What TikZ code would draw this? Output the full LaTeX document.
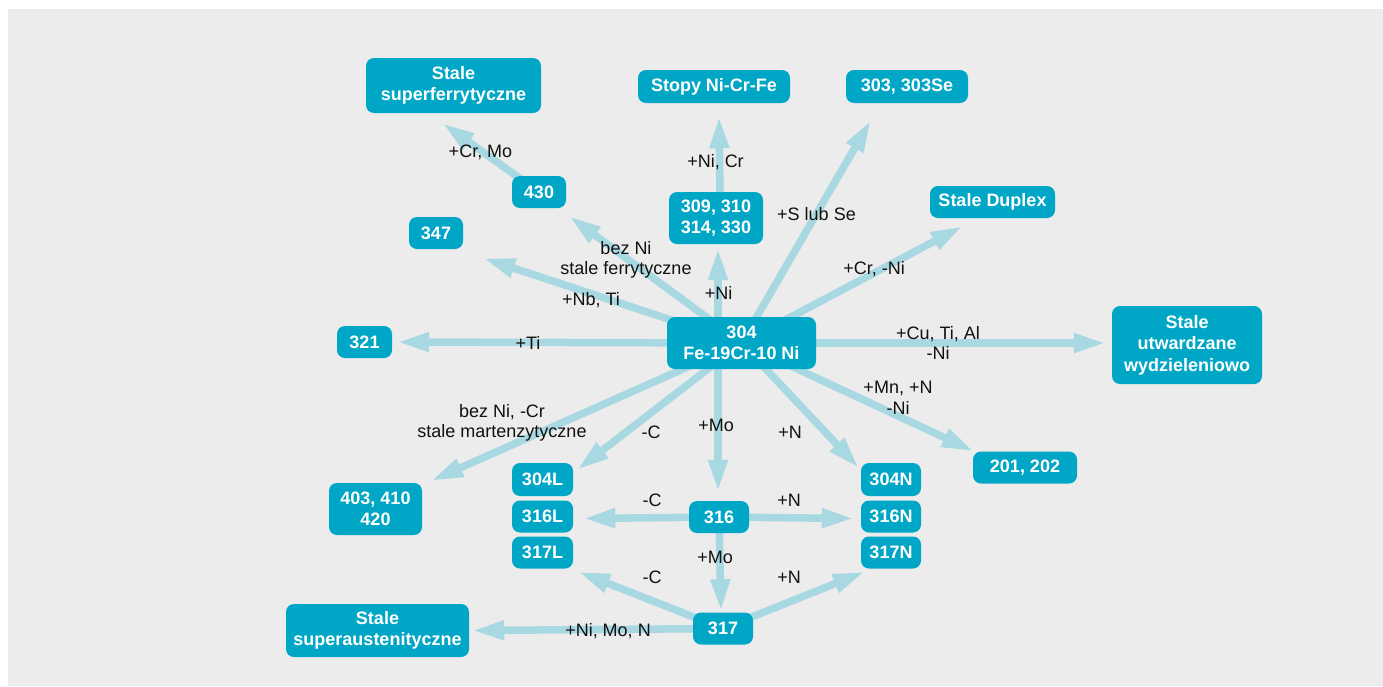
\documentclass[tikz,border=0pt]{standalone}
\usepackage{fontspec}
\setmainfont{Liberation Sans}
\usetikzlibrary{arrows.meta,calc}
\definecolor{boxc}{HTML}{00A6C6}
\definecolor{arrc}{HTML}{A8D8E1}
\definecolor{bgc}{HTML}{ECECEC}
\definecolor{txtc}{HTML}{111111}
\pgfdeclarelayer{bglayer}
\pgfdeclarelayer{arrlayer}
\pgfsetlayers{bglayer,arrlayer,main}
\begin{document}
\begin{tikzpicture}[x=1pt,y=-1pt,
  box/.style={fill=boxc, rounded corners=8pt, text=white,
    font=\bfseries\fontsize{18}{21.5}\selectfont, align=center, inner sep=0pt},
  lbl/.style={font=\fontsize{18}{20.5}\selectfont, text=txtc, align=center, inner sep=0pt},
  arr/.style={draw=arrc, line width=7.5pt, -{Triangle[length=32pt,width=18pt]}}
]
\useasboundingbox (0,0) rectangle (1383,686);
\begin{pgfonlayer}{bglayer}
\fill[bgc] (8,9) rectangle (1383,686);
\end{pgfonlayer}

% nodes
\node[box, minimum width=175pt, minimum height=55pt] (sf) at (453.5,85.5) {Stale\\superferrytyczne};
\node[box, minimum width=54pt, minimum height=32pt] (n430) at (539,192) {430};
\node[box, minimum width=54pt, minimum height=32pt] (n347) at (436,233) {347};
\node[box, minimum width=152pt, minimum height=33pt] (stopy) at (714,86.5) {Stopy Ni-Cr-Fe};
\node[box, minimum width=122pt, minimum height=33pt] (n303) at (907,86.5) {303, 303Se};
\node[box, minimum width=94pt, minimum height=52pt] (n309) at (716,218) {309, 310\\314, 330};
\node[box, minimum width=125pt, minimum height=32pt] (duplex) at (992.5,202) {Stale Duplex};
\node[box, minimum width=55pt, minimum height=32pt] (n321) at (364.5,342) {321};
\node[box, minimum width=149pt, minimum height=52pt] (n304) at (741.5,343) {304\\Fe-19Cr-10 Ni};
\node[box, minimum width=150pt, minimum height=78pt] (su) at (1187,345) {Stale\\utwardzane\\wydzieleniowo};
\node[box, minimum width=104pt, minimum height=32pt] (n201) at (1025,467.5) {201, 202};
\node[box, minimum width=60pt, minimum height=33pt] (n304N) at (891,479.5) {304N};
\node[box, minimum width=60pt, minimum height=32pt] (n316N) at (891,516.5) {316N};
\node[box, minimum width=60pt, minimum height=32pt] (n317N) at (891,552.5) {317N};
\node[box, minimum width=61pt, minimum height=33pt] (n304L) at (542.5,479.5) {304L};
\node[box, minimum width=61pt, minimum height=32pt] (n316L) at (542.5,516.5) {316L};
\node[box, minimum width=61pt, minimum height=32pt] (n317L) at (542.5,552.5) {317L};
\node[box, minimum width=93pt, minimum height=52pt] (n403) at (375.5,509) {403, 410\\420};
\node[box, minimum width=60pt, minimum height=32pt] (n316) at (719,517) {316};
\node[box, minimum width=60pt, minimum height=32pt] (n317) at (723,628.5) {317};
\node[box, minimum width=183pt, minimum height=53pt] (sa) at (377.5,630.5) {Stale\\superaustenityczne};

% arrow end points
\coordinate (t309) at ($(n309.south)+(2,4)$);
\coordinate (t316) at ($(n316.north)+(-1,-9)$);

% connectors
\begin{pgfonlayer}{arrlayer}
\draw[arr] (n304.center) -- ($(n430.south east)+(3,8)$);
\draw[arr] (n430.center) -- ($(sf.south)+(-11,10)$);
\draw[arr] (n304.center) -- ($(n347.south east)+(20,9)$);
\draw[arr] (n304.center) -- ($(n321.east)+(5,0)$);
\draw[arr] (t309 |- n304.center) -- (t309);
\draw[arr] ($(n309.north)+(4,0)$) -- ($(stopy.south)+(5,13)$);
\draw[arr] (n304.center) -- ($(n303.south west)+(25,17)$);
\draw[arr] (n304.center) -- ($(duplex.south west)+(33,8)$);
\draw[arr] (n304.center) -- ($(su.west)+(-6,-2)$);
\draw[arr] (n304.center) -- ($(n201.north west)+(1,0)$);
\draw[arr] (n304.center) -- ($(n304N.north west)+(-2,5)$);
\draw[arr] (t316 |- n304.center) -- (t316);
\draw[arr] (n304.center) -- ($(n304L.north east)+(4,7)$);
\draw[arr] (n304.center) -- ($(n403.north east)+(9,-2)$);
\draw[arr] (n316.center) -- ($(n316L.east)+(10,2)$);
\draw[arr] (n316.center) -- ($(n316N.west)+(-7,2)$);
\draw[arr] (n316.center) -- ($(n317.north)+(-2,-1)$);
\draw[arr] (n317.center) -- ($(n317L.south east)+(5,3)$);
\draw[arr] (n317.center) -- ($(n317N.south west)+(4,3)$);
\draw[arr] (n317.center) -- ($(sa.east)+(3,0)$);
\end{pgfonlayer}

% labels
\node[lbl] (l1) at (626,260) {bez Ni\\stale ferrytyczne};
\node[lbl] (l2) at (480.5,152) {+Cr, Mo};
\node[lbl] (l3) at (591,300) {+Nb, Ti};
\node[lbl] (l4) at (528,343) {+Ti};
\node[lbl] (l5) at (718.5,293) {+Ni};
\node[lbl] (l6) at (715.5,162) {+Ni, Cr};
\node[lbl] (l7) at (816.5,214) {+S lub Se};
\node[lbl] (l8) at (874,269) {+Cr, -Ni};
\node[lbl] (l9) at (938,343) {+Cu, Ti, Al\\-Ni};
\node[lbl] (l10) at (898,398) {+Mn, +N\\-Ni};
\node[lbl] (l11) at (790,432) {+N};
\node[lbl] (l12) at (716,425) {+Mo};
\node[lbl] (l13) at (651,432) {-C};
\node[lbl] (l14) at (502,423) {bez Ni, -Cr\\stale martenzytyczne};
\node[lbl] (l15) at (652,500) {-C};
\node[lbl] (l16) at (789,500) {+N};
\node[lbl] (l17) at (715,557) {+Mo};
\node[lbl] (l18) at (652,577) {-C};
\node[lbl] (l19) at (789,577) {+N};
\node[lbl] (l20) at (608,631) {+Ni, Mo, N};
\end{tikzpicture}
\end{document}
